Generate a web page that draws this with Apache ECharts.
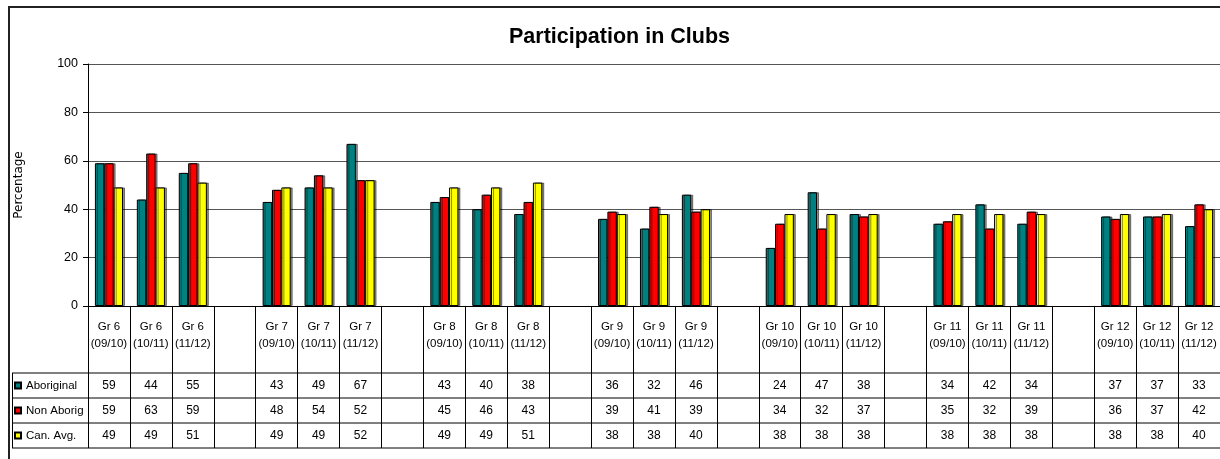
<!DOCTYPE html>
<html>
<head>
    <meta charset="utf-8">
    <title>Participation in Clubs</title>
    <style>
        html, body { margin: 0; padding: 0; background: #fff; }
        #chart { width: 1220px; height: 459px; }
    </style>
</head>
<body>
<div id="chart"></div>
<script src="https://cdn.jsdelivr.net/npm/echarts@6/dist/echarts.min.js"></script>
<script>
    // grades and school years
    var grades = ['Gr 6', 'Gr 7', 'Gr 8', 'Gr 9', 'Gr 10', 'Gr 11', 'Gr 12'];
    var years = ['(09/10)', '(10/11)', '(11/12)'];
    var seriesNames = ['Aboriginal', 'Non Aborig', 'Can. Avg.'];
    var colors = ['#008080', '#ff0000', '#ffff00'];

    // values per grade/year, in order
    var aboriginal = [59, 44, 55, 43, 49, 67, 43, 40, 38, 36, 32, 46, 24, 47, 38, 34, 42, 34, 37, 37, 33];
    var nonAborig  = [59, 63, 59, 48, 54, 52, 45, 46, 43, 39, 41, 39, 34, 32, 37, 35, 32, 39, 36, 37, 42];
    var canAvg     = [49, 49, 51, 49, 49, 52, 49, 49, 51, 38, 38, 40, 38, 38, 38, 38, 38, 38, 38, 38, 40];

    var yTicks = [0, 20, 40, 60, 80, 100];

    var font = 'Liberation Sans, Arial, sans-serif';

    // build categories with an empty column between grades
    var cats = [];
    for (var g = 0; g < grades.length; g++) {
        for (var y = 0; y < years.length; y++) {
            cats.push(grades[g] + '\n' + years[y]);
        }
        if (g < grades.length - 1) cats.push('');
    }

    function withGaps(arr) {
        var out = [];
        for (var g = 0; g < grades.length; g++) {
            for (var y = 0; y < years.length; y++) {
                out.push(arr[g * 3 + y]);
            }
            if (g < grades.length - 1) out.push('-');
        }
        return out;
    }
    var allData = [withGaps(aboriginal), withGaps(nonAborig), withGaps(canAvg)];

    var chart = echarts.init(document.getElementById('chart'));

    var left = 88;
    var rowTops = [373, 398, 423];

    var grids = [
        {left: left, right: 0, top: 64, height: 242},   // plot
        {left: left, right: 0, top: 306, height: 142}   // table lines
    ];
    var xAxes = [
        {
            type: 'category', gridIndex: 0, data: cats,
            axisLine: {lineStyle: {color: '#000', width: 1}},
            axisTick: {show: false},
            axisLabel: {interval: 0, color: '#000', fontFamily: font, fontSize: 11.5, lineHeight: 17, margin: 12}
        },
        {
            type: 'category', gridIndex: 1, data: cats,
            axisLine: {show: false}, axisTick: {show: false}, axisLabel: {show: false},
            splitLine: {show: true, interval: 0, lineStyle: {color: '#000', width: 1}}
        }
    ];
    var yAxes = [
        {
            type: 'value', gridIndex: 0, min: yTicks[0], max: yTicks[yTicks.length - 1], interval: 20,
            name: 'Percentage', nameLocation: 'middle', nameGap: 63, nameRotate: 90,
            nameTextStyle: {color: '#000', fontFamily: 'DejaVu Sans, sans-serif', fontSize: 12},
            axisLine: {show: true, lineStyle: {color: '#000'}},
            axisTick: {show: true, length: 5, lineStyle: {color: '#000'}},
            axisLabel: {color: '#000', fontFamily: font, fontSize: 12.5, margin: 10},
            splitLine: {lineStyle: {color: '#555', width: 1}}
        },
        {type: 'value', gridIndex: 1, show: false, min: 0, max: 1}
    ];

    // one small grid per table row, values shown as axis labels
    for (var r = 0; r < 3; r++) {
        grids.push({left: left, right: 0, top: rowTops[r], height: 25});
        xAxes.push({
            type: 'category', gridIndex: r + 2,
            data: allData[r].map(function (v) { return v === '-' ? '' : String(v); }),
            axisLine: {show: false}, axisTick: {show: false},
            axisLabel: {interval: 0, color: '#000', fontFamily: font, fontSize: 12,
                verticalAlign: 'middle', margin: -12}
        });
        yAxes.push({type: 'value', gridIndex: r + 2, show: false, min: 0, max: 1});
    }

    var series = [];
    for (var s = 0; s < 3; s++) {
        series.push({
            name: seriesNames[s],
            type: 'bar',
            xAxisIndex: 0, yAxisIndex: 0,
            barGap: 0,
            barCategoryGap: '33%',
            itemStyle: {color: colors[s], borderColor: '#000', borderWidth: 1,
                shadowColor: 'rgba(0,0,0,0.45)', shadowOffsetX: 2, shadowOffsetY: 0, shadowBlur: 0},
            data: allData[s]
        });
    }

    var tableLines = [];
    [373, 398, 423, 448].forEach(function (yy) {
        tableLines.push({type: 'line', shape: {x1: 12, y1: yy, x2: 1220, y2: yy},
            style: {stroke: '#000', lineWidth: 1}});
    });
    tableLines.push({type: 'line', shape: {x1: 12.5, y1: 373, x2: 12.5, y2: 448},
        style: {stroke: '#000', lineWidth: 1}});
    // chart frame
    tableLines.push({type: 'polyline', shape: {points: [[9, 459], [9, 7], [1222, 7]]},
        style: {stroke: '#222', lineWidth: 2, fill: null}});

    chart.setOption({
        animation: false,
        title: {
            text: 'Participation in Clubs',
            left: 504, top: 21,
            textStyle: {color: '#000', fontFamily: font, fontSize: 21.5, fontWeight: 'bold'}
        },
        legend: {
            orient: 'vertical', left: 14, top: 379, padding: 0,
            itemGap: 12, itemWidth: 6, itemHeight: 6,
            icon: 'rect',
            textStyle: {color: '#000', fontFamily: font, fontSize: 11.5, lineHeight: 13},
            data: seriesNames
        },
        grid: grids,
        xAxis: xAxes,
        yAxis: yAxes,
        series: series,
        graphic: tableLines
    });
</script>
</body>
</html>
